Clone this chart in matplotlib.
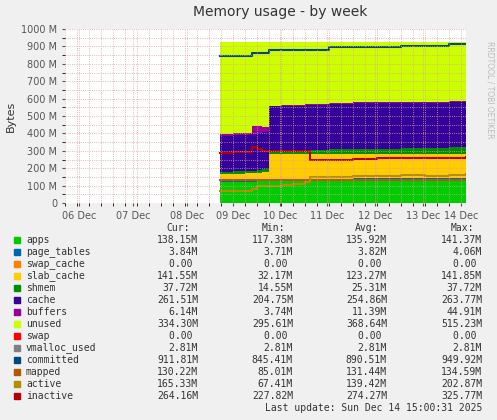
from matplotlib import pyplot as plt

# time in days from left edge of the plot
t = [3.23, 3.5, 3.75, 3.9, 4.0, 4.1, 4.25, 4.5, 4.75, 5.0, 5.1, 5.5, 6.0, 6.5, 7.0, 7.5, 8.0, 8.35]
apps = [120, 120, 120, 121, 125, 128, 130, 130, 130, 132, 135, 136, 137, 137, 138, 137, 138, 138]
page_tables = [4] * 18
slab_cache = [45, 45, 46, 46, 46, 46, 150, 150, 148, 148, 140, 142, 142, 141, 142, 141, 141, 141]
shmem = [12, 13, 14, 14, 15, 15, 18, 18, 20, 22, 25, 27, 30, 30, 32, 33, 36, 37]
cache = [205, 207, 208, 210, 212, 215, 253, 255, 255, 256, 258, 258, 260, 262, 260, 262, 262, 261]
buffers = [12, 12, 13, 45, 40, 30, 5, 5, 5, 5, 6, 6, 6, 6, 6, 6, 6, 6]
total = 925
committed = [845, 845, 845, 860, 860, 860, 880, 880, 880, 880, 880, 895, 895, 895, 905, 905, 912, 912]
mapped = [130] * 18
active = [67, 67, 70, 80, 100, 95, 100, 105, 110, 120, 150, 152, 155, 155, 160, 158, 162, 165]
inactive = [290, 292, 295, 320, 310, 300, 300, 300, 300, 300, 245, 250, 255, 258, 260, 258, 260, 262]

tick_pos = [0.29, 1.42, 2.54, 3.5, 4.48, 5.46, 6.46, 7.46, 8.25]
tick_labels = ['06 Dec', '07 Dec', '08 Dec', '09 Dec', '10 Dec', '11 Dec', '12 Dec', '13 Dec', '14 Dec']

legend_rows = [
    ('apps', '#00CC00', '138.15M', '117.38M', '135.92M', '141.37M'),
    ('page_tables', '#0066B3', '3.84M', '3.71M', '3.82M', '4.06M'),
    ('swap_cache', '#FF8000', '0.00 ', '0.00 ', '0.00 ', '0.00 '),
    ('slab_cache', '#FFCC00', '141.55M', '32.17M', '123.27M', '141.85M'),
    ('shmem', '#008F00', '37.72M', '14.55M', '25.31M', '37.72M'),
    ('cache', '#330099', '261.51M', '204.75M', '254.86M', '263.77M'),
    ('buffers', '#990099', '6.14M', '3.74M', '11.39M', '44.91M'),
    ('unused', '#CCFF00', '334.30M', '295.61M', '368.64M', '515.23M'),
    ('swap', '#FF0000', '0.00 ', '0.00 ', '0.00 ', '0.00 '),
    ('vmalloc_used', '#808080', '2.81M', '2.81M', '2.81M', '2.81M'),
    ('committed', '#00487D', '911.81M', '845.41M', '890.51M', '949.92M'),
    ('mapped', '#B35A00', '130.22M', '85.01M', '131.44M', '134.59M'),
    ('active', '#B38F00', '165.33M', '67.41M', '139.42M', '202.87M'),
    ('inactive', '#B30000', '264.16M', '227.82M', '274.27M', '325.77M'),
]

W, H = 497, 420
fig = plt.figure(figsize=(W / 100, H / 100), dpi=100, facecolor='#F0F0F0')
ax = fig.add_axes([65 / W, 1 - 203 / H, 401 / W, 174 / H], facecolor='white')

# stacked areas
layers = [(apps, '#00CC00'), (page_tables, '#0066B3'), (slab_cache, '#FFCC00'),
          (shmem, '#008F00'), (cache, '#330099'), (buffers, '#990099')]
base = [0] * len(t)
for vals, col in layers:
    top = [b + v for b, v in zip(base, vals)]
    ax.fill_between(t, base, top, step='post', color=col, lw=0)
    base = top
ax.fill_between(t, base, [total] * len(t), step='post', color='#CCFF00', lw=0)

ax.step(t, committed, where='post', color='#00487D', lw=1.5)
ax.step(t, mapped, where='post', color='#B35A00', lw=1.5)
ax.step(t, active, where='post', color='#B38F00', lw=1.5)
ax.step(t, inactive, where='post', color='#B30000', lw=1.5)

ax.set_xlim(0, 8.35)
ax.set_ylim(0, 1000)
ax.set_yticks(range(0, 1001, 100))
ax.set_yticklabels(['0'] + ['%d M' % v for v in range(100, 1001, 100)])
ax.set_xticks(tick_pos)
ax.set_xticklabels(tick_labels)
ax.tick_params(labelsize=7, colors='#555555', length=2)
ax.set_xticks([i * 0.25 for i in range(34)], minor=True)
ax.set_yticks(range(0, 1001, 50), minor=True)
ax.grid(True, which='both', color='#E0A0A0', ls=':', lw=0.6)
ax.set_axisbelow(False)
for s in ax.spines.values():
    s.set_visible(False)
ax.set_ylabel('Bytes', fontsize=8, color='#333333')

fig.text(280 / W, 1 - 12 / H, 'Memory usage - by week', ha='center', va='center', fontsize=10, color='#333333')
fig.text(490 / W, 1 - 90 / H, 'RRDTOOL / TOBI OETIKER', rotation=270, ha='center', va='center',
         fontsize=5.5, color='#BBBBBB')

mono = 'DejaVu Sans Mono'
cols = [198, 293, 387, 482]
for x, h in zip(cols, ['Cur:', 'Min:', 'Avg:', 'Max:']):
    fig.text((x - 20) / W, 1 - 228 / H, h, ha='center', va='center', fontsize=7, family=mono, color='#333333')
for i, row in enumerate(legend_rows):
    y = 1 - (240 + i * 12) / H
    fig.patches.append(plt.Rectangle((14 / W, y - 3 / H), 6 / W, 6 / H, color=row[1], transform=fig.transFigure))
    fig.text(26 / W, y, row[0], ha='left', va='center', fontsize=7, family=mono, color='#333333')
    for x, v in zip(cols, row[2:]):
        fig.text(x / W, y, v, ha='right', va='center', fontsize=7, family=mono, color='#333333')
fig.text(482 / W, 1 - 408 / H, 'Last update: Sun Dec 14 15:00:31 2025', ha='right', va='center',
         fontsize=7, family=mono, color='#333333')

plt.savefig('out.png', dpi=100, facecolor=fig.get_facecolor())
